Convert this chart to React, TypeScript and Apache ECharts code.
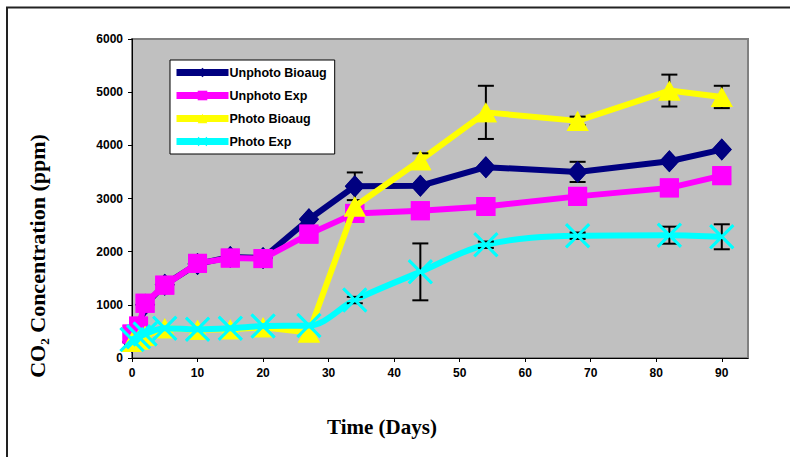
import React, { useEffect, useRef } from "react";
import * as echarts from "echarts";

const days = [0, 1, 2, 5, 10, 15, 20, 27, 34, 44, 54, 68, 82, 90];
const unphotoBioaug = [300, 550, 1000, 1380, 1770, 1900, 1880, 2610, 3230, 3240, 3590, 3500, 3700, 3920];
const unphotoExp = [450, 600, 1030, 1370, 1780, 1880, 1870, 2330, 2720, 2770, 2850, 3040, 3200, 3430];
const photoBioaug = [300, 350, 420, 560, 530, 540, 580, 480, 2850, 3720, 4620, 4460, 5030, 4910];
const photoExp = [350, 400, 450, 560, 540, 560, 600, 610, 1090, 1620, 2130, 2300, 2310, 2280];

const unphotoBioaugErr = [0, 0, 0, 0, 0, 0, 0, 0, 260, 0, 0, 190, 0, 0];
const unphotoExpErr = [0, 0, 0, 0, 0, 0, 0, 0, 0, 0, 0, 0, 0, 0];
const photoBioaugErr = [0, 0, 0, 0, 0, 0, 0, 0, 0, 130, 500, 80, 300, 210];
const photoExpErr = [0, 0, 0, 0, 0, 0, 0, 0, 60, 535, 60, 60, 160, 235];

const xTickLabels = [0, 10, 20, 30, 40, 50, 60, 70, 80, 90];
const seriesNames = ["Unphoto Bioaug", "Unphoto Exp", "Photo Bioaug", "Photo Exp"];

const X_SYMBOL = "path://M0,8 L8,0 L100,92 L92,100 Z M92,0 L100,8 L8,100 L0,92 Z";

export default function App() {
  const ref = useRef<HTMLDivElement>(null);
  useEffect(() => {
    if (!ref.current) return;
    const chart = echarts.init(ref.current, null, { renderer: "svg" });

    const defs = [
      { name: seriesNames[0], vals: unphotoBioaug, err: unphotoBioaugErr, color: "#000080", symbol: "diamond", size: [20, 22], smooth: false },
      { name: seriesNames[1], vals: unphotoExp, err: unphotoExpErr, color: "#FF00FF", symbol: "rect", size: 19, smooth: false },
      { name: seriesNames[2], vals: photoBioaug, err: photoBioaugErr, color: "#FFFF00", symbol: "triangle", size: [22, 20], smooth: false },
      { name: seriesNames[3], vals: photoExp, err: photoExpErr, color: "#00FFFF", symbol: X_SYMBOL, size: 25, smooth: true },
    ];

    const series: any[] = [];
    defs.forEach((d, i) => {
      const data = days.map((x, k) => [x, d.vals[k]]);
      series.push({
        name: d.name,
        type: "line",
        data,
        z: 2 + i * 3,
        smooth: d.smooth ? 0.35 : false,
        symbol: d.symbol,
        symbolSize: d.size,
        showAllSymbol: true,
        lineStyle: { color: d.color, width: 6 },
        itemStyle: { color: d.color },
      });
      const errData = days
        .map((x, k) => [x, d.vals[k], d.err[k]])
        .filter((r) => r[2] > 0);
      series.push({
        name: d.name + " err",
        type: "custom",
        z: 3 + i * 3,
        data: errData,
        renderItem: (params: any, api: any) => {
          const x = api.value(0);
          const y = api.value(1);
          const e = api.value(2);
          const top = api.coord([x, y + e]);
          const bot = api.coord([x, y - e]);
          const hw = 8;
          const st = { stroke: "#000", lineWidth: 2 };
          return {
            type: "group",
            children: [
              { type: "line", shape: { x1: top[0], y1: top[1], x2: bot[0], y2: bot[1] }, style: st },
              { type: "line", shape: { x1: top[0] - hw, y1: top[1], x2: top[0] + hw, y2: top[1] }, style: st },
              { type: "line", shape: { x1: bot[0] - hw, y1: bot[1], x2: bot[0] + hw, y2: bot[1] }, style: st },
            ],
          };
        },
      });
      series.push({
        name: d.name + " markers",
        type: "line",
        data,
        z: 4 + i * 3,
        symbol: d.symbol,
        symbolSize: d.size,
        showAllSymbol: true,
        lineStyle: { width: 0, opacity: 0 },
        itemStyle: { color: d.color },
      });
    });

    chart.setOption({
      animation: false,
      grid: {
        left: 132,
        top: 39,
        right: 42,
        bottom: 99,
        show: true,
        backgroundColor: "#C0C0C0",
        borderColor: "#808080",
        borderWidth: 2,
      },
      legend: {
        data: seriesNames,
        orient: "vertical",
        left: 170,
        top: 60,
        itemWidth: 52,
        itemHeight: 12,
        itemGap: 10,
        backgroundColor: "#fff",
        borderColor: "#000",
        borderWidth: 1,
        borderRadius: 0,
        padding: [6, 8, 6, 3],
        lineStyle: { width: 7 },
        textStyle: { fontFamily: "Liberation Sans", fontWeight: "bold", fontSize: 12.5, color: "#000", padding: [0, 0, 0, -4] },
      },
      xAxis: {
        type: "value",
        min: 0,
        max: 94,
        interval: 10,
        splitLine: { show: false },
        axisLine: { show: true, onZero: false, lineStyle: { color: "#000", width: 1 } },
        axisTick: { show: true, length: 4, lineStyle: { color: "#000" }, customValues: xTickLabels },
        axisLabel: {
          customValues: xTickLabels,
          color: "#000",
          fontFamily: "Liberation Sans",
          fontWeight: "bold",
          fontSize: 12,
          margin: 9,
        },
      },
      yAxis: {
        type: "value",
        min: 0,
        max: 6000,
        interval: 1000,
        splitLine: { show: false },
        axisLine: { show: true, lineStyle: { color: "#000", width: 1 } },
        axisTick: { show: true, length: 4, lineStyle: { color: "#000" } },
        axisLabel: {
          color: "#000",
          fontFamily: "Liberation Sans",
          fontWeight: "bold",
          fontSize: 12,
          margin: 9,
          formatter: (v: number) => String(v),
        },
      },
      graphic: [
        {
          type: "rect",
          shape: { x: 7, y: 7.5, width: 900, height: 600 },
          style: { fill: "none", stroke: "#222", lineWidth: 2 },
          silent: true,
        },
        {
          type: "text",
          x: 382,
          y: 427,
          style: {
            text: "Time (Days)",
            font: "bold 21px 'Liberation Serif'",
            fill: "#000",
            align: "center",
            verticalAlign: "middle",
          },
        },
        {
          type: "text",
          x: 37,
          y: 256,
          rotation: Math.PI / 2,
          style: {
            text: "CO₂ Concentration (ppm)",
            font: "bold 22px 'Liberation Serif'",
            fill: "#000",
            align: "center",
            verticalAlign: "middle",
          },
        },
      ],
      series,
    });
    return () => chart.dispose();
  }, []);
  return (
    <div
      ref={ref}
      style={{ position: "fixed", left: 0, top: 0, width: 790, height: 457, background: "#fff" }}
    />
  );
}
